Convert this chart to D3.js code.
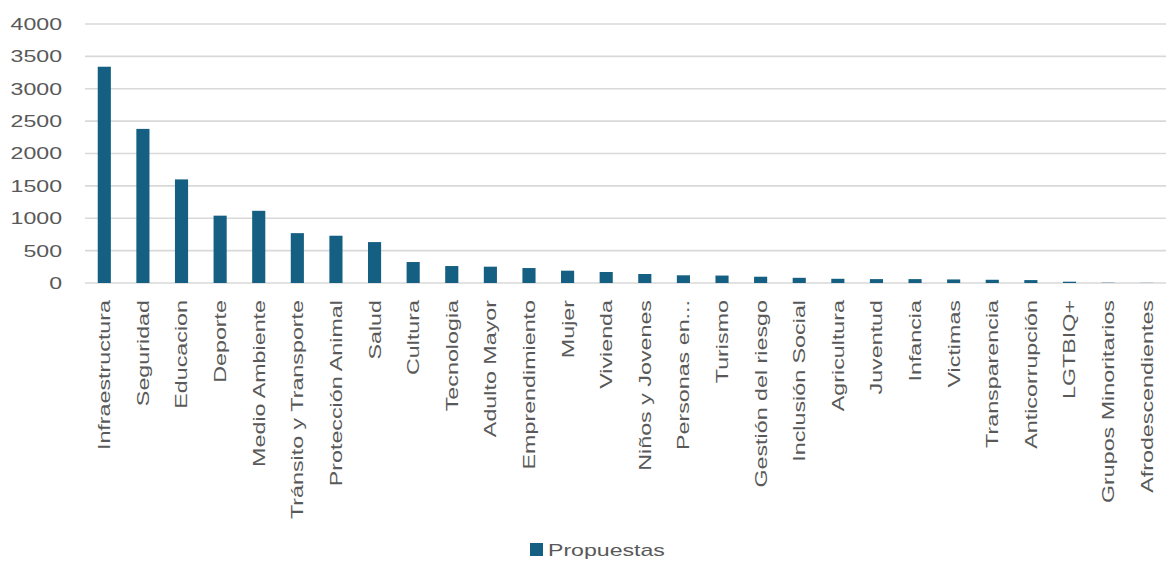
<!DOCTYPE html>
<html lang="es">
<head>
  <meta charset="UTF-8">
  <title>Propuestas por categoría</title>
  <script src="https://d3js.org/d3.v7.min.js"></script>
  <style>
    body {
      margin: 0;
      background: #fff;
      font-family: "Liberation Sans", Arial, sans-serif;
    }
    .grid line {
      stroke: #d9d9d9;
      stroke-width: 1.6px;
    }
    .tick-label {
      fill: #595959;
      font-size: 17px;
    }
  </style>
</head>
<body>
  <div id="chart"></div>
  <script>
    const categories = ["Infraestructura", "Seguridad", "Educacion", "Deporte", "Medio Ambiente",
      "Tránsito y Transporte", "Protección Animal", "Salud", "Cultura", "Tecnologia", "Adulto Mayor",
      "Emprendimiento", "Mujer", "Vivienda", "Niños y Jovenes", "Personas en...", "Turismo",
      "Gestión del riesgo", "Inclusión Social", "Agricultura", "Juventud", "Infancia", "Victimas",
      "Transparencia", "Anticorrupción", "LGTBIQ+", "Grupos Minoritarios", "Afrodescendientes"];
    const propuestas = [3340, 2380, 1600, 1040, 1115, 770, 730, 632, 324, 262, 252, 231, 190, 170,
      139, 119, 115, 97, 80, 65, 60, 60, 55, 50, 45, 20, 4, 2];
    const yTicks = [0, 500, 1000, 1500, 2000, 2500, 3000, 3500, 4000];
    const seriesName = "Propuestas";

    const W = 1170, H = 561;
    const margin = {left: 85, right: 1166, top: 24, bottom: 283};
    const barColor = "#156082";
    const stretch = 1.36;

    const svg = d3.select("#chart").append("svg")
      .attr("width", W)
      .attr("height", H);

    const x = d3.scaleBand().domain(categories)
      .range([margin.left, margin.right]).paddingInner(0.66).paddingOuter(0.33);
    const y = d3.scaleLinear().domain([0, 4000]).range([margin.bottom, margin.top]);

    // gridlines
    svg.append("g").attr("class", "grid")
      .selectAll("line")
      .data(yTicks)
      .enter().append("line")
      .attr("x1", margin.left)
      .attr("x2", margin.right)
      .attr("y1", d => y(d))
      .attr("y2", d => y(d));

    // y labels
    svg.append("g")
      .selectAll("text")
      .data(yTicks)
      .enter().append("text")
      .attr("class", "tick-label")
      .attr("text-anchor", "end")
      .attr("dy", "0.35em")
      .attr("transform", d => "translate(62," + y(d) + ") scale(" + stretch + ",1)")
      .text(d => d);

    // bars
    svg.append("g")
      .selectAll("rect")
      .data(categories)
      .enter().append("rect")
      .attr("x", d => x(d))
      .attr("width", x.bandwidth())
      .attr("y", (d, i) => y(propuestas[i]))
      .attr("height", (d, i) => y(0) - y(propuestas[i]))
      .attr("fill", barColor);

    // category labels
    svg.append("g")
      .selectAll("text")
      .data(categories)
      .enter().append("text")
      .attr("class", "tick-label")
      .attr("text-anchor", "end")
      .attr("dy", "0.35em")
      .attr("transform", d => "translate(" + (x(d) + x.bandwidth() / 2) + ",300) rotate(-90) scale(1.37,1)")
      .text(d => d);

    // legend
    const legend = svg.append("g");
    legend.append("rect")
      .attr("x", 530)
      .attr("y", 543)
      .attr("width", 13)
      .attr("height", 13)
      .attr("fill", barColor);
    legend.append("text")
      .attr("class", "tick-label")
      .attr("transform", "translate(548,556) scale(" + stretch + ",1)")
      .text(seriesName);
  </script>
</body>
</html>
